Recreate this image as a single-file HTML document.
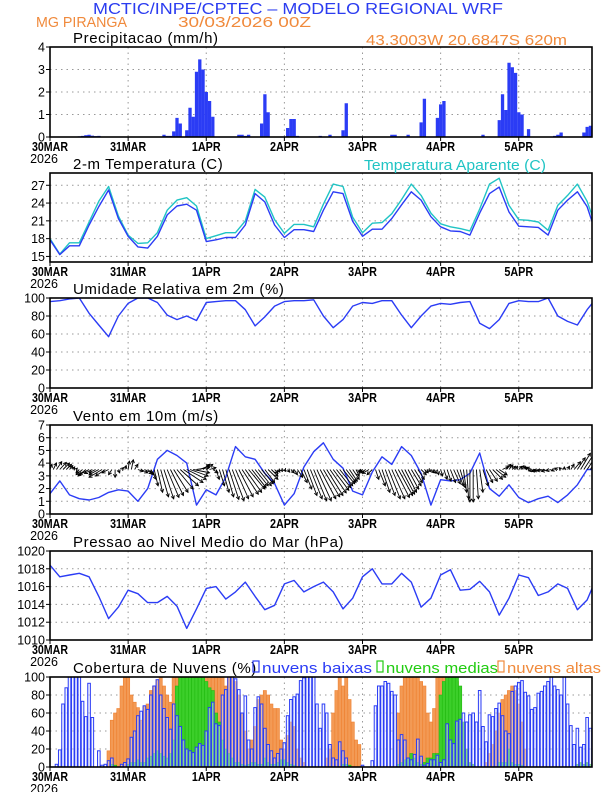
<!DOCTYPE html>
<html><head><meta charset="utf-8">
<style>
html,body{margin:0;padding:0;background:#fff;}
svg{display:block;font-family:"Liberation Sans",sans-serif;}
</style></head>
<body>
<svg id="chart" width="612" height="792" viewBox="0 0 612 792" xmlns="http://www.w3.org/2000/svg">
<text x="93" y="14" font-size="16" fill="#2b3cf0" textLength="410" lengthAdjust="spacingAndGlyphs">MCTIC/INPE/CPTEC – MODELO REGIONAL WRF</text>
<text x="36" y="27" font-size="15" fill="#f08a3c" textLength="91" lengthAdjust="spacingAndGlyphs">MG PIRANGA</text>
<text x="178" y="27" font-size="15" fill="#f08a3c" textLength="133" lengthAdjust="spacingAndGlyphs">30/03/2026 00Z</text>
<text x="366" y="45" font-size="15" fill="#f08a3c" textLength="201" lengthAdjust="spacingAndGlyphs">43.3003W 20.6847S 620m</text>
<g id="plots"></g>
</svg>
<script>
// ---------- data ----------
const hours3 = [0,3,6,9,12,15,18,21,24,27,30,33,36,39,42,45,48,51,54,57,60,63,66,69,72,75,78,81,84,87,90,93,96,99,102,105,108,111,114,117,120,123,126,129,132,135,138,141,144,147,150,153,156,159,162,165,167];
const dayLabels = ["30MAR","31MAR","1APR","2APR","3APR","4APR","5APR"];
const precipHours = [9,10,11,12,13,14,15,35,36,37,38,39,40,42,43,44,45,46,47,48,49,50,58,59,60,61,65,66,67,73,74,75,76,83,86,90,91,105,106,110,114,115,119,120,121,133,138,139,140,141,142,143,144,145,146,147,155,156,157,164,165,166,167];
const precipValues = [0.03,0.05,0.08,0.1,0.06,0.04,0.05,0.1,0.05,0.05,0.25,0.85,0.6,0.3,1.3,0.9,2.9,3.45,3.0,2.0,1.6,0.9,0.1,0.1,0.05,0.1,0.6,1.9,1.1,0.4,0.8,0.8,0.05,0.05,0.1,0.3,1.5,0.1,0.1,0.1,0.65,1.7,0.85,1.45,1.6,0.1,0.75,1.9,1.2,3.3,3.1,2.85,1.1,1.0,0.05,0.35,0.05,0.1,0.2,0.2,0.45,0.5,0.25];
const temp2m = [17.8,15.3,16.8,16.8,20.3,23.4,26.2,21.4,18.4,16.6,16.4,18.4,22.0,23.5,23.8,22.8,17.5,17.8,18.2,18.2,20.3,25.6,24.2,20.3,18.2,19.5,19.5,19.2,22.8,25.9,25.6,20.9,18.4,19.6,19.6,21.4,23.7,25.9,24.5,21.7,20.0,19.3,19.2,18.6,22.3,25.6,26.7,22.5,20.1,20.0,19.9,18.6,22.8,24.5,25.9,23.4,20.1];
const tempApparent = [18.0,15.4,17.3,17.3,20.8,24.3,26.8,21.8,18.6,17.2,17.3,19.0,22.8,24.5,24.9,23.5,18.0,18.5,19.0,19.0,21.0,26.3,25.0,21.2,18.9,20.4,20.4,20.0,23.8,27.2,26.8,21.6,19.0,20.6,20.7,22.2,24.6,27.2,25.3,22.3,20.5,20.0,19.7,19.3,23.0,27.2,28.2,23.6,21.2,21.1,20.8,19.4,23.6,25.3,27.2,24.3,21.2];
const relHumidity = [96,97,99,100,83,70,57,80,94,100,100,95,81,76,80,75,95,96,97,97,87,69,79,91,96,97,97,98,80,67,76,91,95,94,97,97,81,67,80,91,94,93,95,96,72,66,76,94,97,96,96,100,80,74,70,87,96];
const windSpeed = [1.6,2.6,1.5,1.2,1.1,1.3,1.7,1.9,1.8,1.0,2.0,4.3,5.0,4.6,4.0,0.7,1.9,1.5,2.9,5.3,4.5,4.3,3.2,2.4,0.7,1.6,3.7,4.9,5.6,4.3,3.6,1.8,1.5,3.3,4.5,3.9,5.3,4.6,3.2,0.7,2.7,2.6,2.7,3.2,4.8,2.0,1.4,2.3,1.3,0.9,1.2,1.4,0.9,1.5,2.3,3.5,3.5];
const windU = [0.3,0.5,0.8,1,1,0.8,0.5,0.3,0.2,-0.5,-1,-1.2,-1.5,-1.2,-1,-1.5,-2,-1.5,-1,-0.5,0,0.2,0.3,0.2,
0.2,0.3,0.5,0.8,1,1.2,1,0.8,0.6,0.8,1.2,1.5,1.8,2,2.2,2.5,2.8,3,3,2.8,2.5,2,1.5,1,
1,1,0.8,0.5,0.8,1,1.2,1.5,1.8,2,2.2,2.5,2.5,2.5,2.2,2,2,1.8,1.5,1.5,1,0.5,0.3,0.2,
0.2,0.3,0.5,0.5,0.8,1,1.2,1.5,1.8,2,2.2,2.4,2.5,2.5,2.5,2.4,2.2,2,1.8,1.5,1.2,1,0.5,0,
-0.5,-0.8,-1,-0.8,0.5,1,1.2,1.5,1.8,2,2.2,2.2,2,1.8,1.6,1.5,1.2,1,0.8,0.6,0.5,0.5,0.3,0.2,
0.3,0.5,0.6,0.8,1,1,0.8,0.5,0.3,0,0,0.3,0.5,0.8,1,1.2,1.5,1.5,1.2,1,0.8,0.6,0.5,0.3,
0.5,0.3,0,-0.5,-0.8,-1,-1,-1.2,-1.2,-1,-0.8,-0.5,-0.5,-0.3,0,0.3,0.5,1,1.2,1.5,1.8,2,1.5,1];
const windV = [0.8,1,1.2,1.1,1,0.8,0.6,0.4,0.2,-0.5,-0.8,-1,-0.8,-0.6,-0.5,-0.8,-1.2,-1,-0.5,-0.8,-1.2,-0.5,0.3,0.6,
1.3,1.5,0.8,-0.3,-0.5,-0.6,-0.8,-1.5,-2.5,-3.5,-4.2,-4.5,-4.3,-4,-3.5,-3,-2.5,-2,-1.5,-1,-0.5,0.3,0.6,0.8,
0.8,0.3,-0.5,-1.5,-2.5,-3.5,-4.2,-4.6,-4.8,-4.5,-4.2,-3.8,-3.5,-3,-2.8,-2.5,-2.5,-2.2,-2,-1.5,-1,-0.6,-0.4,-0.3,
-0.3,-0.4,-0.5,-0.8,-1.2,-2,-3,-4,-4.5,-4.8,-4.8,-4.5,-4.2,-4,-3.6,-3.2,-2.8,-2.5,-2.2,-2,-1.8,-1.5,-1,-0.5,
-0.4,-0.5,-0.6,-0.8,-1.5,-2.5,-3.5,-4,-4.5,-4.5,-4.3,-4,-3.8,-3.5,-3,-2.5,-2,-1.5,-0.8,-0.5,-0.3,-0.5,-0.6,-0.8,
-1,-1.5,-1.8,-2,-2.2,-2.5,-2.8,-3.5,-4.5,-5,-5,-4.5,-3.5,-2.5,-2,-1.8,-1.5,-1.2,-0.8,0.5,0.8,0.7,0.5,0.5,
0.5,0.6,0.5,0.4,0.3,-0.2,-0.3,-0.2,-0.2,-0.3,-0.2,-0.2,0.2,0.3,0.4,0.5,0.8,1.2,1.8,2.5,2.8,3,2.5,1.5];
const pressure = [1018.4,1017.1,1017.3,1017.5,1017.1,1014.9,1012.4,1013.7,1015.6,1015.2,1014.2,1014.2,1014.9,1013.8,1011.3,1013.5,1015.8,1016.0,1014.6,1015.4,1016.5,1014.9,1013.4,1013.9,1016.3,1016.7,1015.4,1016.0,1016.5,1015.4,1013.5,1014.7,1017.1,1018.0,1016.3,1016.3,1017.5,1016.5,1013.7,1014.7,1017.3,1017.9,1015.6,1015.7,1016.6,1015.4,1012.8,1014.7,1017.3,1017.0,1015.0,1015.4,1016.3,1015.8,1013.4,1014.5,1016.2];
const cloudLow = [0,0,3,19,70,88,100,100,100,100,73,56,93,55,0,18,2,3,7,10,0,0,3,5,
9,33,40,57,62,68,64,80,90,97,80,65,55,42,70,57,45,30,20,18,16,22,26,24,
40,66,72,48,46,80,86,100,100,98,86,60,79,30,20,66,78,70,43,25,18,10,15,20,
27,57,75,78,81,96,99,100,100,100,70,43,70,60,25,10,8,28,18,10,0,0,0,0,
2,0,0,7,68,90,90,95,93,84,80,30,36,30,10,8,14,31,12,2,4,8,8,13,
5,8,48,30,26,51,53,60,50,58,60,50,85,45,28,58,56,65,71,57,40,37,84,90,
94,96,83,79,64,66,82,84,90,95,100,90,86,80,100,70,46,25,43,22,25,55,43,66];
const cloudMid = [0,0,0,0,0,0,0,0,0,0,0,0,0,0,0,0,0,0,0,3,2,0,0,0,
3,5,5,8,5,5,10,12,15,18,15,12,10,15,30,90,100,100,100,100,100,100,100,100,
95,88,85,60,50,30,20,15,10,5,5,3,2,3,5,5,3,3,10,5,3,3,5,8,
8,5,3,2,0,0,0,0,0,0,0,0,0,0,0,0,0,0,3,3,2,0,0,0,
0,0,0,0,0,0,0,0,0,0,0,3,5,8,10,15,10,5,3,5,10,10,15,15,
80,95,100,100,100,100,90,50,20,5,3,0,0,0,0,0,0,0,5,5,5,20,5,3,
3,2,0,0,0,0,0,0,0,0,0,0,0,0,0,0,0,0,3,5,3,5,3,8];
const cloudHigh = [0,0,0,0,0,0,0,0,0,0,0,0,0,0,0,0,0,0,18,52,60,65,90,100,
100,80,72,66,52,67,70,85,90,97,100,90,80,72,100,100,100,100,100,100,100,100,100,100,
100,100,100,100,100,100,90,100,100,95,80,60,40,20,30,45,75,80,85,80,70,65,65,30,
20,35,50,45,20,10,5,0,0,0,0,0,0,10,20,60,85,100,90,100,75,50,30,25,
0,0,0,0,0,0,0,0,0,0,0,60,90,100,100,100,100,100,95,90,60,50,65,100,
100,100,100,100,100,95,60,40,0,0,0,0,0,0,5,15,25,40,60,75,80,85,90,85,
70,50,20,0,0,0,0,0,0,0,0,0,0,0,0,0,0,0,0,0,0,0,0,85];
const precipTicks = [0,1,2,3,4];
const tempTicks = [15,18,21,24,27];
const rhTicks = [0,20,40,60,80,100];
const windTicks = [0,1,2,3,4,5,6,7];
const presTicks = [1010,1012,1014,1016,1018,1020];
const cloudTicks = [0,20,40,60,80,100];

// ---------- drawing ----------
const NS = "http://www.w3.org/2000/svg";
const root = document.getElementById("plots");
const XL = 50, XR = 592;
function X(h){ return XL + h * (542 / 166.5); }
function mk(tag, attrs, parent){
  const e = document.createElementNS(NS, tag);
  for (const k in attrs) e.setAttribute(k, attrs[k]);
  (parent || root).appendChild(e);
  return e;
}
function scale(top, bottom, lo, hi){ return v => bottom - (v - lo) / (hi - lo) * (bottom - top); }

function panel(name, top, bottom, lo, hi, ticks, title){
  const g = mk("g", {});
  
  
  const Y = scale(top, bottom, lo, hi);
  for (let d = 1; d < 7; d++){
    const l = mk("line", {x1:X(d*24), x2:X(d*24), y1:top, y2:bottom, stroke:"#999", "stroke-width":1, "stroke-dasharray":"1.5,4"}, g);
    
    
  }
  ticks.forEach(t => {
    if (t !== lo && t !== hi){
      const l = mk("line", {x1:XL, x2:XR, y1:Y(t), y2:Y(t), stroke:"#999", "stroke-width":1, "stroke-dasharray":"1.5,4"}, g);
      
      
    }
    const tk = mk("line", {x1:XL-4, x2:XL, y1:Y(t), y2:Y(t), stroke:"#000", "stroke-width":1}, g);
    
    
    const tx = mk("text", {x:XL-5, y:Y(t)+4.5, "font-size":12.5, "text-anchor":"end", fill:"#000"}, g);
    
    
    tx.textContent = t;
  });
  dayLabels.forEach((lab, i) => {
    const tk = mk("line", {x1:X(i*24), x2:X(i*24), y1:bottom, y2:bottom+4, stroke:"#000"}, g);
    
    
    const tx = mk("text", {x:X(i*24), y:bottom+14, "font-size":12.5, "text-anchor":"middle", fill:"#000", "font-weight":"bold", textLength: lab.length*7.2, lengthAdjust:"spacingAndGlyphs"}, g);
    
    
    tx.textContent = lab;
  });
  const yr = mk("text", {x:X(0)-6, y:bottom+26, "font-size":12.5, "text-anchor":"middle", fill:"#000"}, g);
  
  
  yr.textContent = "2026";
  const tt = mk("text", {x:73, y:top-4, "font-size":15, fill:"#000", "letter-spacing":"0.6"}, g);
  
  
  tt.textContent = title;
  const marks = mk("g", {"clip-path":"url(#clip-"+name+")"}, g);
  
  
  const cp = mk("clipPath", {id:"clip-"+name}, g);
  mk("rect", {x:XL, y:top, width:XR-XL, height:bottom-top}, cp);
  return {g, Y, marks, top, bottom};
}
function frame(p){
  const r = mk("rect", {x:XL, y:p.top, width:XR-XL, height:p.bottom-p.top, fill:"none", stroke:"#000", "stroke-width":1.6}, p.g);
  
  
}
function line(p, xs, ys, color, name, w){
  const pts = xs.map((h,i) => X(h).toFixed(1)+","+p.Y(ys[i]).toFixed(1)).join(" ");
  const pl = mk("polyline", {points:pts, fill:"none", stroke:color, "stroke-width":w||1.4, "stroke-linejoin":"round"}, p.marks);
  
  
}

// 1 precipitation
const p1 = panel("precipitation", 47, 137, 0, 4, precipTicks, "Precipitacao (mm/h)");
precipHours.forEach((h,i) => {
  const y = p1.Y(precipValues[i]);
  const b = mk("rect", {x:X(h)-1.6, y:y, width:3.3, height:p1.Y(0)-y, fill:"#2b3cf5"}, p1.marks);
  
  
});
frame(p1);

// 2 temperature
const p2 = panel("temperature", 173, 262, 14.06, 29.07, tempTicks, "2-m Temperatura (C)");
line(p2, hours3, tempApparent, "#20c4c4", "apparent-temperature-line");
line(p2, hours3, temp2m, "#2b3cf5", "temperature-line");
frame(p2);
const lt = mk("text", {x:364, y:170, "font-size":15, fill:"#20c4c4", textLength:182, lengthAdjust:"spacingAndGlyphs"}, p2.g);


lt.textContent = "Temperatura Aparente (C)";

// 3 humidity
const p3 = panel("humidity", 298, 388, 0, 100, rhTicks, "Umidade Relativa em 2m (%)");
line(p3, hours3, relHumidity, "#2b3cf5", "humidity-line");
frame(p3);

// 4 wind
const p4 = panel("wind", 425, 514, 0, 7, windTicks, "Vento em 10m (m/s)");
line(p4, hours3, windSpeed, "#2b3cf5", "wind-speed-line");
windU.forEach((u,h) => {
  const x0 = X(h), y0 = p4.Y(3.5);
  const s = 6.5;
  const x1 = x0 + u*s, y1 = y0 - windV[h]*s;
  const a = mk("g", {stroke:"#000", "stroke-width":0.9, fill:"none"}, p4.marks);
  
  
  mk("line", {x1:x0, y1:y0, x2:x1, y2:y1}, a);
  const ang = Math.atan2(y1-y0, x1-x0), L = 3.5;
  mk("polyline", {points:(x1-L*Math.cos(ang-0.5)).toFixed(1)+","+(y1-L*Math.sin(ang-0.5)).toFixed(1)+" "+x1.toFixed(1)+","+y1.toFixed(1)+" "+(x1-L*Math.cos(ang+0.5)).toFixed(1)+","+(y1-L*Math.sin(ang+0.5)).toFixed(1)}, a);
});
frame(p4);

// 5 pressure
const p5 = panel("pressure", 551, 640, 1010, 1020, presTicks, "Pressao ao Nivel Medio do Mar (hPa)");
line(p5, hours3, pressure, "#2b3cf5", "pressure-line");
frame(p5);

// 6 clouds
const p6 = panel("clouds", 677, 767, 0, 100, cloudTicks, "Cobertura de Nuvens (%)");
cloudHigh.forEach((v,h) => {
  if (!v) return;
  const y = p6.Y(v);
  const b = mk("rect", {x:X(h)-1.6, y:y, width:3.2, height:p6.Y(0)-y, fill:"#f39a55", stroke:"#ee8030", "stroke-width":0.6}, p6.marks);
  
  
});
cloudMid.forEach((v,h) => {
  if (!v) return;
  const y = p6.Y(v);
  const b = mk("rect", {x:X(h)-1.6, y:y, width:3.2, height:p6.Y(0)-y, fill:"#3ccf2a", stroke:"#22bb11", "stroke-width":0.6}, p6.marks);
  
  
});
cloudLow.forEach((v,h) => {
  if (!v) return;
  const y = p6.Y(v);
  const b = mk("rect", {x:X(h)-1.3, y:y, width:2.6, height:p6.Y(0)-y, fill:"rgba(225,230,255,0.45)", stroke:"#2b3cf5", "stroke-width":1}, p6.marks);
  
  
});
frame(p6);
[["nuvens baixas","#2b3cf5",253,"low-cloud-legend",110],["nuvens medias","#22cc11",377,"mid-cloud-legend",112],["nuvens altas","#f08a3c",498,"high-cloud-legend",94]].forEach(L => {
  const g = mk("g", {}, p6.g);
  
  
  mk("rect", {x:L[2], y:661, width:6, height:11, fill:"none", stroke:L[1], "stroke-width":1.2}, g);
  const t = mk("text", {x:L[2]+9, y:673, "font-size":15, fill:L[1], textLength:L[4], lengthAdjust:"spacingAndGlyphs"}, g);
  t.textContent = L[0];
});
</script>
</body></html>
